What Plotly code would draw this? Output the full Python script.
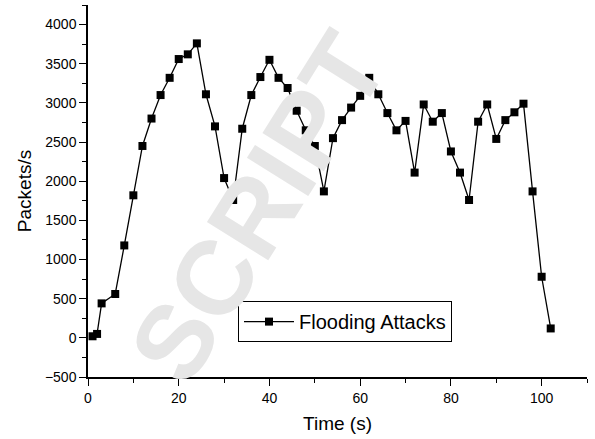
import plotly.graph_objects as go

time_s = [1, 2, 3, 6, 8, 10, 12, 14, 16, 18, 20, 22, 24, 26, 28, 30, 32, 34, 36, 38,
          40, 42, 44, 46, 48, 50, 52, 54, 56, 58, 60, 62, 64, 66, 68, 70, 72, 74, 76, 78,
          80, 82, 84, 86, 88, 90, 92, 94, 96, 98, 100, 102]
packets = [20, 50, 440, 560, 1180, 1820, 2450, 2800, 3100, 3320, 3560, 3620, 3760, 3110,
           2700, 2040, 1760, 2670, 3100, 3330, 3550, 3320, 3190, 2900, 2650, 2450, 1870,
           2550, 2780, 2940, 3090, 3320, 3110, 2870, 2650, 2770, 2110, 2980, 2760, 2870,
           2380, 2110, 1760, 2760, 2980, 2540, 2780, 2880, 2990, 1870, 780, 120]

FONT = "Arial, Liberation Sans, sans-serif"

fig = go.Figure()
fig.add_trace(go.Scatter(
    x=time_s, y=packets, mode="lines+markers", name="Flooding Attacks",
    line=dict(color="black", width=1.3),
    marker=dict(symbol="square", size=8, color="black"),
))

fig.add_annotation(
    text="<b>SCRIPT</b>", x=0.341, y=0.455, xref="paper", yref="paper", showarrow=False,
    textangle=-58, font=dict(family=FONT, size=105, color="#e6e6e6"),
    xanchor="center", yanchor="middle",
)

axis_common = dict(
    showline=True, linecolor="black", linewidth=1.5, showgrid=False, zeroline=False,
    ticks="outside", ticklen=7, tickwidth=1.2, tickcolor="black",
    tickfont=dict(family=FONT, size=14, color="black"),
    mirror=False,
)

fig.update_xaxes(
    range=[0, 110], dtick=20, tick0=0,
    title=dict(text="Time (s)", font=dict(family=FONT, size=19, color="black"), standoff=12),
    minor=dict(dtick=10, ticks="outside", ticklen=4, tickcolor="black", tickwidth=1.2),
    **axis_common,
)
fig.update_yaxes(
    range=[-500, 4250], dtick=500, tick0=0,
    title=dict(text="Packets/s", font=dict(family=FONT, size=19, color="black"), standoff=8),
    minor=dict(dtick=250, ticks="outside", ticklen=4, tickcolor="black", tickwidth=1.2),
    **axis_common,
)

fig.update_layout(
    width=595, height=439,
    margin=dict(l=88, r=8, t=5, b=62),
    paper_bgcolor="white", plot_bgcolor="white",
    showlegend=True,
    legend=dict(
        x=0.3006, y=0.204, xanchor="left", yanchor="top",
        bgcolor="white", bordercolor="black", borderwidth=1,
        font=dict(family=FONT, size=20, color="black"),
        itemwidth=50, tracegroupgap=0,
    ),
)

fig.write_html("out.html")
